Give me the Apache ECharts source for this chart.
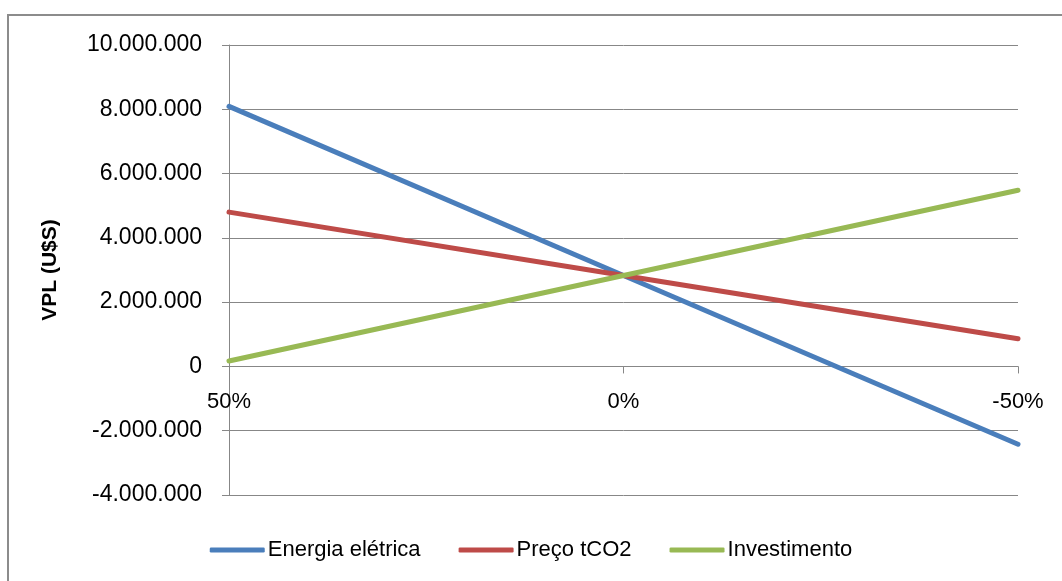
<!DOCTYPE html>
<html>
<head>
<meta charset="utf-8">
<script src="https://cdn.jsdelivr.net/npm/echarts@6/dist/echarts.min.js"></script>
<style>
  html, body { margin: 0; padding: 0; background: #fff; }
  #chart { width: 1062px; height: 581px; }
</style>
</head>
<body>
<div id="chart"></div>
<script>
// Variação dos parâmetros e VPL resultante (US$)
const categories = ['50%', '0%', '-50%'];
const energiaEletrica = [8090000, 2830000, -2420000];
const precoTCO2 = [4800000, 2830000, 860000];
const investimento = [170000, 2830000, 5480000];
const yTicks = { min: -4000000, max: 10000000, interval: 2000000 };

const FONT = '"Liberation Sans", Arial, sans-serif';
const GRID_GRAY = '#878787';

function fmtThousands(v) {
  const neg = v < 0;
  const s = Math.abs(Math.round(v)).toString().replace(/\B(?=(\d{3})+(?!\d))/g, '.');
  return (neg ? '-' : '') + s;
}

const chart = echarts.init(document.getElementById('chart'), null, { renderer: 'canvas' });

const lineSeries = (name, data, color) => ({
  name, type: 'line', data,
  symbol: 'none',
  lineStyle: { width: 5, color, cap: 'round' },
  itemStyle: { color },
  animation: false
});

chart.setOption({
  backgroundColor: '#ffffff',
  animation: false,
  graphic: [{
    type: 'rect',
    shape: { x: 8, y: 15, width: 1100, height: 700 },
    style: { fill: 'none', stroke: '#8c8c8c', lineWidth: 2 },
    silent: true
  }],
  grid: { left: 229, right: 44, top: 45, bottom: 86, containLabel: false },
  legend: {
    bottom: 15,
    left: 'center',
    itemWidth: 55,
    itemHeight: 5,
    itemGap: 38,
    icon: 'roundRect',
    textStyle: { fontFamily: FONT, fontSize: 22, color: '#000', padding: [0, 0, 0, -2] },
    data: ['Energia elétrica', 'Preço tCO2', 'Investimento']
  },
  xAxis: {
    type: 'category',
    data: categories,
    boundaryGap: false,
    axisLine: { onZero: true, lineStyle: { color: GRID_GRAY, width: 1 } },
    axisTick: { show: true, length: 7, lineStyle: { color: GRID_GRAY } },
    // labels sit just under the zero line, not at the bottom of the grid
    axisLabel: { fontFamily: FONT, fontSize: 22, color: '#000', margin: -104 },
    splitLine: { show: false }
  },
  yAxis: {
    type: 'value',
    min: yTicks.min,
    max: yTicks.max,
    interval: yTicks.interval,
    name: 'VPL (U$S)',
    nameLocation: 'middle',
    nameGap: 168,
    nameRotate: 90,
    nameTextStyle: { fontFamily: FONT, fontSize: 21, fontWeight: 'bold', color: '#000' },
    axisLine: { show: true, lineStyle: { color: GRID_GRAY, width: 1 } },
    axisTick: { show: true, length: 7, lineStyle: { color: GRID_GRAY } },
    axisLabel: { fontFamily: FONT, fontSize: 23, color: '#000', margin: 27, formatter: fmtThousands },
    splitLine: { show: true, lineStyle: { color: GRID_GRAY, width: 1 } }
  },
  series: [
    lineSeries('Energia elétrica', energiaEletrica, '#4a7ebb'),
    lineSeries('Preço tCO2', precoTCO2, '#be4b48'),
    lineSeries('Investimento', investimento, '#98b954')
  ]
});
</script>
</body>
</html>
